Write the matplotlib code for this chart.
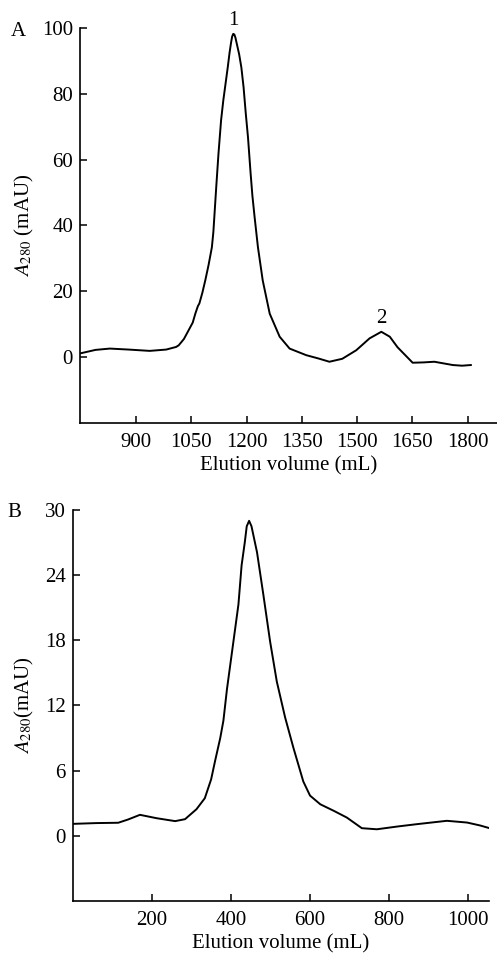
import matplotlib
matplotlib.use("Agg")
import matplotlib.pyplot as plt

# panel A: elution profile (mL, mAU)
vol_a = [747, 790, 829, 880, 937, 982, 1009, 1016, 1030, 1043, 1054, 1061, 1068,
         1072, 1080, 1088, 1097, 1106, 1110, 1114, 1118, 1124, 1131, 1137, 1143,
         1149, 1154, 1158, 1161, 1164, 1167, 1170, 1174, 1180, 1186, 1192, 1198,
         1204, 1211, 1216, 1222, 1231, 1244, 1263, 1290, 1317, 1362, 1395, 1425,
         1460, 1498, 1534, 1566, 1589, 1610, 1651, 1680, 1710, 1730, 1760, 1785,
         1809]
abs_a = [1.1, 2.2, 2.6, 2.3, 1.9, 2.3, 3.1, 3.6, 5.5, 8.2, 10.5, 13.2, 15.5,
         16.3, 19.5, 23.3, 28.0, 33.4, 38.0, 45.0, 52.0, 62.0, 72.0, 78.0, 83.0,
         88.0, 92.5, 95.5, 97.4, 98.2, 98.0, 97.0, 95.0, 92.0, 88.0, 82.0, 74.0,
         66.8, 56.0, 49.0, 42.5, 33.4, 23.3, 13.2, 6.2, 2.6, 0.6, -0.4, -1.4,
         -0.5, 2.1, 5.7, 7.7, 6.2, 3.0, -1.7, -1.6, -1.4, -1.8, -2.4, -2.6,
         -2.4]
peaks_a = ["1", "2"]
peak_vol_a = [1164, 1566]
peak_abs_a = [98.3, 7.7]

# panel B
vol_b = [2, 60, 115, 140, 170, 212, 259, 284, 313, 334, 350, 360, 373, 381,
         390, 406, 419, 427, 435, 440, 446, 452, 466, 482, 499, 516, 537, 558,
         583, 600, 626, 660, 693, 731, 769, 820, 870, 946, 997, 1030, 1054]
abs_b = [1.1, 1.17, 1.2, 1.5, 1.93, 1.62, 1.35, 1.53, 2.45, 3.46, 5.2, 6.9, 9.0,
         10.6, 13.5, 17.8, 21.3, 24.9, 27.0, 28.5, 29.0, 28.5, 26.1, 22.2, 17.9,
         14.2, 10.9, 8.1, 5.0, 3.7, 2.9, 2.3, 1.68, 0.7, 0.6, 0.85, 1.07, 1.38,
         1.22, 0.95, 0.7]

xticks_a = [900, 1050, 1200, 1350, 1500, 1650, 1800]
yticks_a = [0, 20, 40, 60, 80, 100]
xticks_b = [200, 400, 600, 800, 1000]
yticks_b = [0, 6, 12, 18, 24, 30]

plt.rcParams['font.family'] = ['Liberation Serif', 'DejaVu Serif']
plt.rcParams['mathtext.fontset'] = 'stix'
fs = 15

fig = plt.figure(figsize=(4.97, 9.6), dpi=100)
ax1 = fig.add_axes([0.161, 0.5594, 0.839, 0.4115])
ax2 = fig.add_axes([0.1463, 0.0615, 0.838, 0.4073])


def style(ax):
    for s in ['top', 'right']:
        ax.spines[s].set_visible(False)
    for s in ['left', 'bottom']:
        ax.spines[s].set_linewidth(1.2)
    ax.tick_params(direction='in', length=5, width=1.1, labelsize=fs)
    ax.tick_params(axis='x', pad=7)
    ax.tick_params(axis='y', pad=5)


ax1.plot(vol_a, abs_a, color='black', lw=1.4)
ax1.set_xlim(748, 1880)
ax1.set_ylim(-20, 100)
ax1.set_xticks(xticks_a)
ax1.set_yticks(yticks_a)
style(ax1)
for lab, x, y in zip(peaks_a, peak_vol_a, peak_abs_a):
    ax1.text(x, y + 1.2, lab, ha='center', va='bottom', fontsize=fs)
ax1.set_xlabel('Elution volume (mL)', fontsize=fs, labelpad=3)
ax1.set_ylabel(r'$A_{280}$ (mAU)', fontsize=fs)
ax1.yaxis.set_label_coords(-0.105, 0.5)

ax2.plot(vol_b, abs_b, color='black', lw=1.4)
ax2.set_xlim(0, 1053)
ax2.set_ylim(-6, 30)
ax2.set_xticks(xticks_b)
ax2.set_yticks(yticks_b)
style(ax2)
ax2.set_xlabel('Elution volume (mL)', fontsize=fs, labelpad=3)
ax2.set_ylabel(r'$A_{280}$(mAU)', fontsize=fs)
ax2.yaxis.set_label_coords(-0.088, 0.5)

fig.text(0.036, 0.967, 'A', fontsize=fs, ha='center', va='center')
fig.text(0.028, 0.466, 'B', fontsize=fs, ha='center', va='center')

fig.savefig('out.png', dpi=100)
